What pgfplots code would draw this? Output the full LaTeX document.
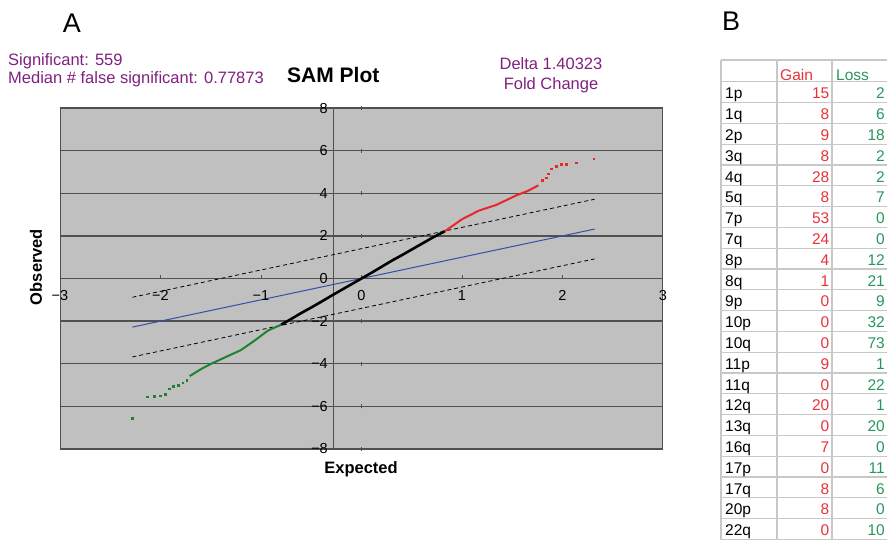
\documentclass[border=0pt]{standalone}
\usepackage{fontspec}
\setmainfont{Liberation Sans}
\usepackage{pgfplots}
\pgfplotsset{compat=1.18}

\definecolor{purp}{RGB}{128,32,128}
\definecolor{plotbg}{RGB}{192,192,192}
\definecolor{gridc}{RGB}{80,80,80}
\definecolor{bluel}{RGB}{50,80,170}
\definecolor{redp}{RGB}{232,40,40}
\definecolor{greenp}{RGB}{30,130,50}
\definecolor{redt}{RGB}{232,50,55}
\definecolor{greent}{RGB}{40,150,90}
\definecolor{tgrid}{RGB}{200,200,200}

\newcommand\fs[1]{\fontsize{#1}{#1}\selectfont}

\begin{document}
\begin{tikzpicture}[every node/.style={inner sep=0pt}]
\useasboundingbox (0,0) rectangle (887pt,-539pt);
\clip (0,0) rectangle (887pt,-539pt);

% panel letters and texts
\node[anchor=base] at (72pt,-32pt) {\fs{27}A};
\node[anchor=base west] at (722pt,-30pt) {\fs{27}B};
\node[anchor=base west, text=purp] at (8pt,-65pt) {\fs{16.5}Significant: 559};
\node[anchor=base west, text=purp] at (8pt,-83pt) {\fs{16.5}Median \# false significant: 0.77873};
\node[anchor=base west] at (287pt,-82pt) {\fs{21}\bfseries SAM Plot};
\node[anchor=base, text=purp] at (551pt,-69pt) {\fs{16.5}Delta 1.40323};
\node[anchor=base, text=purp] at (551pt,-89pt) {\fs{16.5}Fold Change};
\node[rotate=90] at (36pt,-267pt) {\fs{16.5}\bfseries Observed};
\node[anchor=base] at (361pt,-473pt) {\fs{16.5}\bfseries Expected};

\begin{axis}[
  at={(60pt,-449pt)}, anchor=south west,
  scale only axis, width=603pt, height=341pt,
  xmin=-3, xmax=3, ymin=-8, ymax=8,
  axis background/.style={fill=plotbg},
  axis line style={draw=gridc, line width=1pt},
  xtick=\empty,
  ytick={-8,-6,...,8}, yticklabels={},
  ymajorgrids, major tick length=0pt,
  grid style={draw=gridc, line width=1.3pt},
  clip=false,
]
% axis lines inside the plot area
\draw[gridc, line width=1.3pt] (axis cs:-3,0) -- (axis cs:3,0);
\draw[gridc, line width=1pt] (axis cs:-0.274,-8) -- (axis cs:-0.274,8);
\pgfplotsinvokeforeach{-2,-1,0,1,2}{
  \draw[gridc, line width=1pt] (axis cs:#1,0) -- ++(0pt,4pt);
}
\pgfplotsinvokeforeach{-8,-6,-4,-2,2,4,6,8}{
  \draw[gridc, line width=1pt] (axis cs:0,#1) ++(0pt,-2pt) -- ++(0pt,4pt);
}

% delta band and y = x
\addplot[black, line width=0.8pt, dash pattern=on 4pt off 3pt] coordinates {(-2.28,-0.88) (2.32,3.72)};
\addplot[black, line width=0.8pt, dash pattern=on 4pt off 3pt] coordinates {(-2.28,-3.68) (2.32,0.92)};
\addplot[bluel, line width=1pt] coordinates {(-2.28,-2.28) (2.32,2.32)};

% non significant genes
\addplot[black, line width=2.6pt, line join=round] coordinates {
  (-0.80,-2.17) (-0.70,-1.90) (-0.60,-1.62) (-0.50,-1.36) (-0.40,-1.09)
  (-0.30,-0.81) (-0.20,-0.54) (-0.10,-0.27) (0.00,0.00) (0.10,0.27)
  (0.20,0.55) (0.31,0.86) (0.40,1.09) (0.50,1.36) (0.60,1.63)
  (0.70,1.90) (0.83,2.22)
};

% significant, gain
\addplot[redp, line width=2pt, line join=round] coordinates {
  (0.83,2.22) (1.00,2.78) (1.17,3.19) (1.34,3.45) (1.54,3.90) (1.66,4.12) (1.76,4.37)
};
\addplot[redp, only marks, mark=square*, mark size=0.9pt] coordinates {
  (1.80,4.60) (1.84,4.73) (1.86,4.92) (1.89,5.15) (1.94,5.26) (1.99,5.35)
  (2.04,5.35) (2.14,5.43) (2.31,5.62)
};

% significant, loss
\addplot[greenp, line width=2pt, line join=round] coordinates {
  (-0.80,-2.17) (-0.93,-2.44) (-1.06,-2.90) (-1.20,-3.36) (-1.33,-3.64)
  (-1.50,-4.01) (-1.60,-4.26) (-1.71,-4.58)
};
\addplot[greenp, only marks, mark=square*, mark size=0.9pt] coordinates {
  (-1.74,-4.77) (-1.78,-4.89) (-1.82,-5.02) (-1.87,-5.05) (-1.91,-5.17)
  (-1.95,-5.42) (-2.00,-5.50) (-2.06,-5.52) (-2.13,-5.55) (-2.28,-6.57)
};
\end{axis}

% tick labels
\foreach \px/\t in {60/−3,160.5/−2,261/−1,361.5/0,462/1,562.5/2,663/3}
  \node[anchor=base] at (\px pt,-300pt) {\fs{14.5}\t};
\foreach \py/\t in {108.1/8,150.7/6,193.3/4,235.9/2,278.5/0,321.1/−2,363.7/−4,406.3/−6,448.9/−8}
  \node[anchor=east] at (328pt,-\py pt) {\fs{14.5}\t};

% table B
\draw[tgrid, line width=1.2pt] (721pt,-60pt) -- (887pt,-60pt);
\draw[tgrid, line width=1.2pt] (721pt,-81.7pt) -- (887pt,-81.7pt);
\foreach \k in {1,...,22} {
  \pgfmathsetmacro\yl{81.7+\k*20.8}
  \draw[tgrid, line width=1.2pt] (721pt,-\yl pt) -- (887pt,-\yl pt);
}
\foreach \xl in {721,777,832}
  \draw[tgrid, line width=1.2pt] (\xl pt,-60pt) -- (\xl pt,-545pt);
\node[anchor=base west, text=redt] at (780pt,-80pt) {\fs{15.5}Gain};
\node[anchor=base west, text=greent] at (836pt,-80pt) {\fs{15.5}Loss};
\foreach \lab/\g/\l [count=\i] in {1p/15/2, 1q/8/6, 2p/9/18, 3q/8/2, 4q/28/2,
    5q/8/7, 7p/53/0, 7q/24/0, 8p/4/12, 8q/1/21, 9p/0/9, 10p/0/32, 10q/0/73,
    11p/9/1, 11q/0/22, 12q/20/1, 13q/0/20, 16q/7/0, 17p/0/11, 17q/8/6,
    20p/8/0, 22q/0/10} {
  \pgfmathsetmacro\yb{81.7+(\i-1)*20.8+17.2}
  \node[anchor=base west] at (725pt,-\yb pt) {\fs{15.5}\lab};
  \node[anchor=base east, text=redt] at (829.5pt,-\yb pt) {\fs{15.5}\g};
  \node[anchor=base east, text=greent] at (885pt,-\yb pt) {\fs{15.5}\l};
}
\end{tikzpicture}
\end{document}
